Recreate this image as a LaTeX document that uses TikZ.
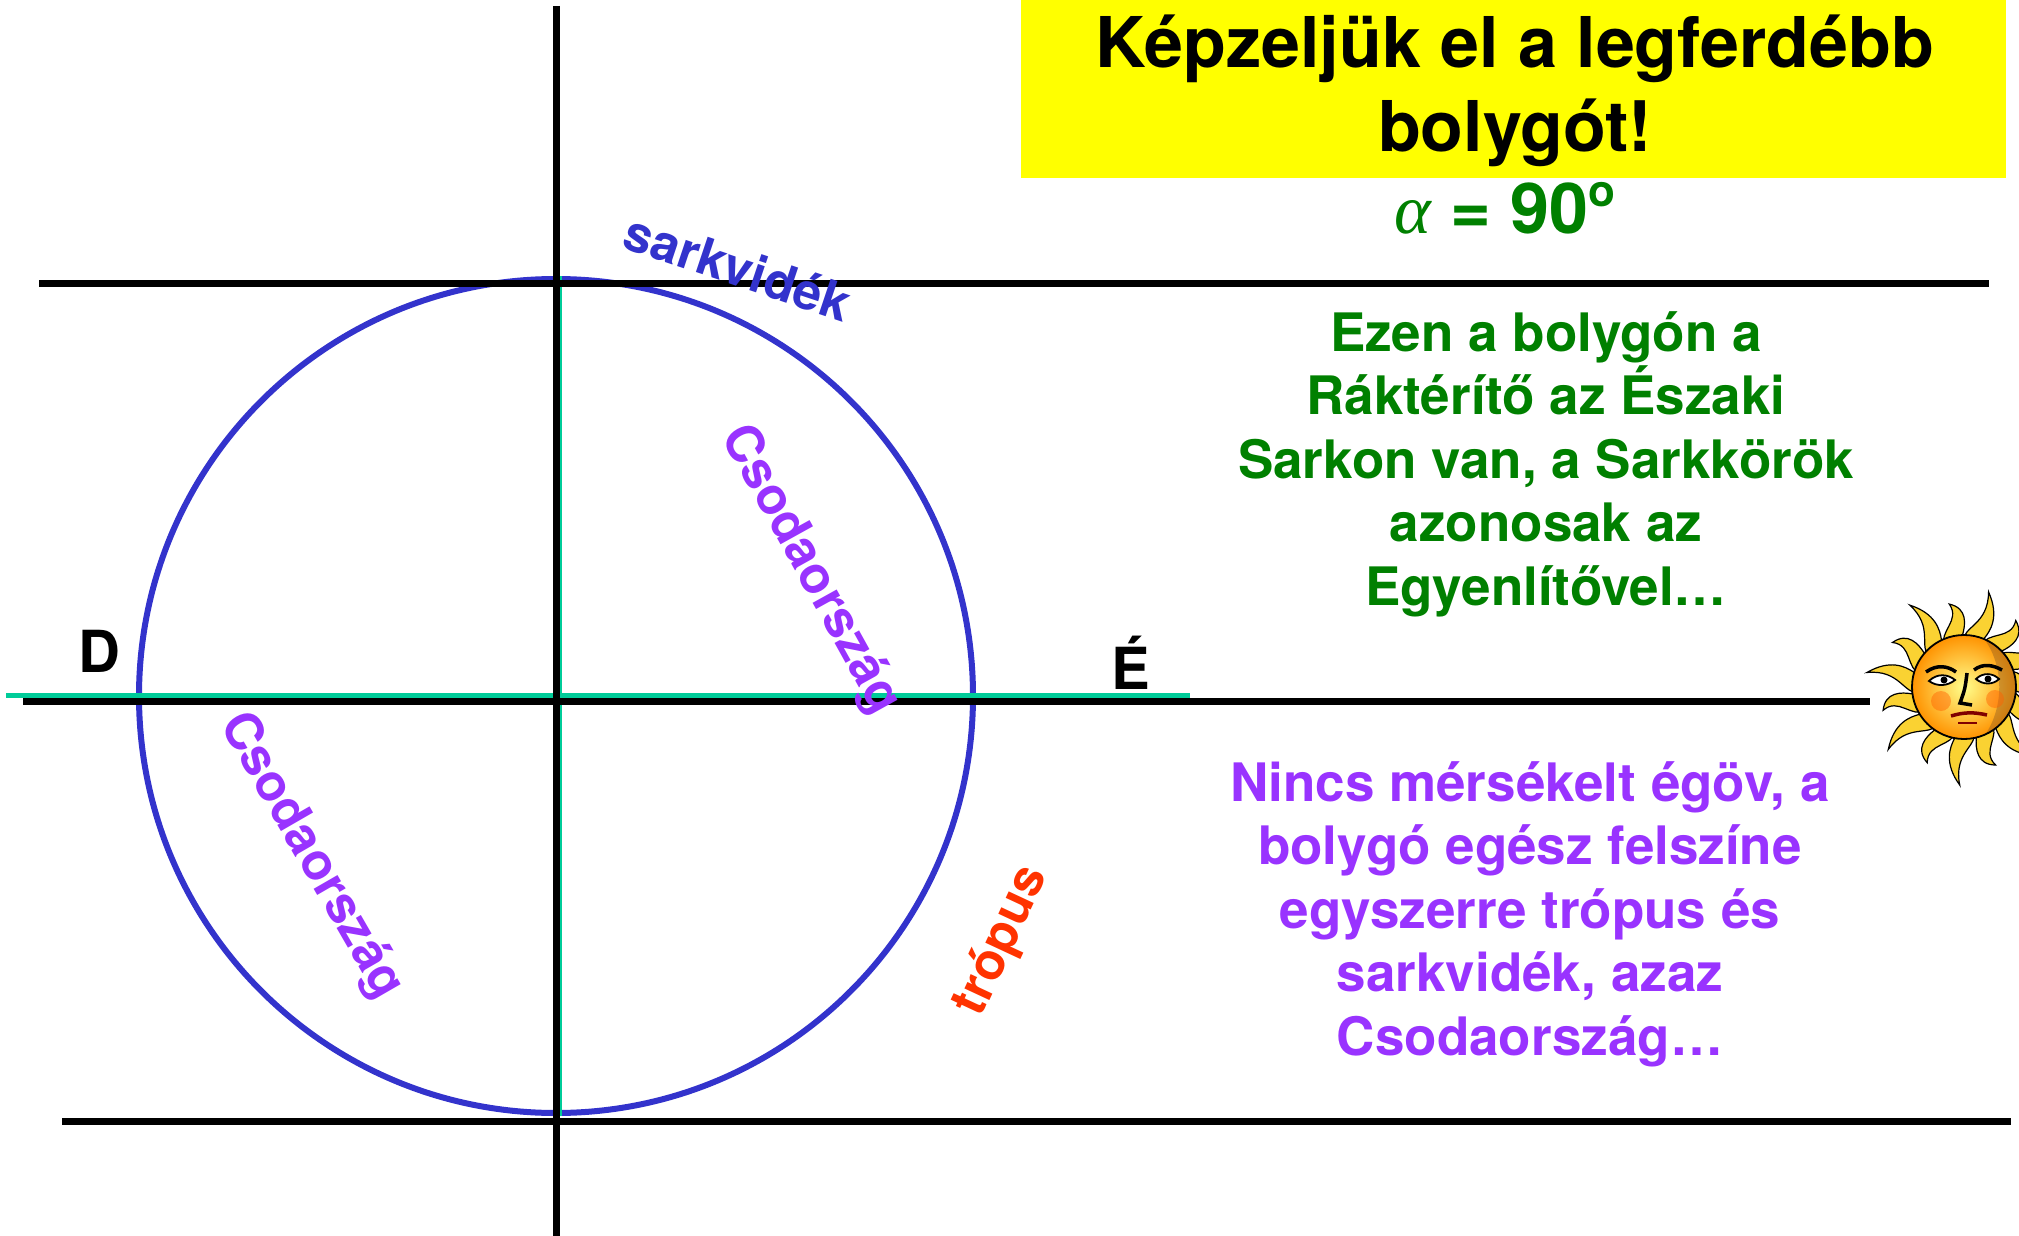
\documentclass[tikz,border=0pt]{standalone}
\usepackage{fontspec}
\setmainfont{TeX Gyre Heros}
\newfontfamily\greekfont{Liberation Serif}
\usepackage{tikz}
\usetikzlibrary{positioning}

\definecolor{planetblue}{RGB}{51,51,204}
\definecolor{eqgreen}{RGB}{0,204,153}
\definecolor{textgreen}{RGB}{0,128,0}
\definecolor{wonderpurple}{RGB}{153,51,255}
\definecolor{tropicred}{RGB}{255,51,0}
\definecolor{titleyellow}{RGB}{255,255,0}
\definecolor{sunyellow}{RGB}{250,210,50}

\tikzstyle{axisline} = [line width=7pt, black]
\tikzstyle{eqline} = [line width=5pt, eqgreen]
\tikzstyle{planet} = [circle, draw=planetblue, line width=6pt, minimum size=834pt, inner sep=0pt]
\tikzstyle{titlebox} = [fill=titleyellow, minimum width=985pt, minimum height=178pt, inner sep=0pt]
\tikzstyle{titletext} = [font=\fontsize{70}{84}\selectfont\bfseries, align=center, inner sep=0pt]
\tikzstyle{angletext} = [text=textgreen, font=\fontsize{70}{84}\selectfont\bfseries, inner sep=0pt]
\tikzstyle{greentext} = [text=textgreen, font=\fontsize{53}{63.5}\selectfont\bfseries, align=center, inner sep=0pt]
\tikzstyle{purpletext} = [text=wonderpurple, font=\fontsize{53}{63.5}\selectfont\bfseries, align=center, inner sep=0pt]
\tikzstyle{pole} = [font=\fontsize{58}{58}\selectfont\bfseries, inner sep=0pt]
\tikzstyle{zone} = [font=\fontsize{51}{51}\selectfont\bfseries, inner sep=0pt]
\tikzstyle{sunray} = [fill=sunyellow, draw=black, line width=1.2pt]

\begin{document}
\begin{tikzpicture}[x=1pt, y=-1pt]
\useasboundingbox (0,0) rectangle (2019,1236);

% title
\node[titlebox] (title) at (1513.5,89) {};
\node[titletext, anchor=base] (titletxt) at (1515,152) {Képzeljük el a legferdébb\\bolygót!};
\node[angletext, anchor=base] (angle) at (1505,233) {{\greekfont\mdseries\itshape α} = 90\raisebox{27pt}{\fontsize{44}{44}\selectfont o}};

% planet
\node[planet] (planet) at (556,696) {};

% axis and equator
\draw[eqgreen, line width=3pt] ([xshift=4pt]planet.north) -- ([xshift=4pt]planet.south);
\coordinate (eqL) at (6,695.5);
\coordinate (eqR) at (1190,695.5);
\draw[eqline] (eqL) -- (eqR);

% horizontal lines and vertical axis
\coordinate (topL) at (39,283);
\coordinate (topR) at (1989,283);
\coordinate (midL) at (23,701);
\coordinate (midR) at (1870,701);
\coordinate (botL) at (62,1121);
\coordinate (botR) at (2011,1121);
\coordinate (axT) at (556,6);
\coordinate (axB) at (556,1236);
\draw[axisline] (topL) -- (topR);
\draw[axisline] (midL) -- (midR);
\draw[axisline] (botL) -- (botR);
\draw[axisline] (axT) -- (axB);

% labels
\node[pole, anchor=base] (south) at (99,672) {D};
\node[pole, anchor=base] (north) at (1131,689) {É};
\node[zone, text=planetblue, rotate=-18.5] (polar) at (738,267) {sarkvidék};
\node[zone, text=wonderpurple, rotate=-61] (wonderA) at (810,570) {Csodaország};
\node[zone, text=wonderpurple, rotate=-60] (wonderB) at (311,856) {Csodaország};
\node[zone, text=tropicred, rotate=65] (tropic) at (1002,941) {trópus};

\node[greentext, anchor=base] (ezen) at (1546,605) {Ezen a bolygón a\\Ráktérítő az Északi\\Sarkon van, a Sarkkörök\\azonosak az\\Egyenlítővel…};
\node[purpletext, anchor=base] (nincs) at (1530,1055) {Nincs mérsékelt égöv, a\\bolygó egész felszíne\\egyszerre trópus és\\sarkvidék, azaz\\Csodaország…};

% sun
\begin{scope}[shift={(1964,687)}]
  \foreach \a [count=\i] in {0,24,...,336} {
    \pgfmathsetmacro{\len}{mod(\i,2)==0 ? 98 : 84}
    \draw[sunray, rotate=\a] (42,-15) .. controls (58,-20) and (66,4) .. (\len,-6)
      .. controls (78,12) and (62,8) .. (52,4) .. controls (50,8) and (46,12) .. (42,15) -- cycle;
  }
  \shade[inner color=yellow!45!white, outer color=orange!85!yellow] (0,0) circle (52);
  \fill[brown!60!black, opacity=0.35] (21,-47) arc (-66:66:52) .. controls (40,20) and (40,-20) .. cycle;
  \draw[black, line width=1.8pt] (0,0) circle (52);
  % cheeks
  \fill[orange!75!red, opacity=0.45] (-23,14) circle (10);
  \fill[orange!75!red, opacity=0.45] (31,12) circle (9);
  % eyes
  \draw[line width=3.5pt] (-38,-15) .. controls (-27,-23) and (-16,-21) .. (-8,-15);
  \draw[line width=3.5pt] (10,-17) .. controls (19,-24) and (29,-22) .. (38,-17);
  \draw[fill=white, line width=1.8pt] (-35,-6) .. controls (-27,-14) and (-16,-13) .. (-9,-7)
    .. controls (-16,-1) and (-27,0) .. cycle;
  \draw[fill=white, line width=1.8pt] (12,-8) .. controls (19,-15) and (29,-14) .. (35,-8)
    .. controls (29,-2) and (19,-2) .. cycle;
  \fill (-20,-7) circle (3.5);
  \fill (24,-8) circle (3.5);
  % nose and mouth
  \draw[line width=3.5pt] (3,-14) .. controls (1,2) .. (-4,16) -- (8,18);
  \draw[red!50!black, line width=3.5pt] (-13,29) .. controls (0,25) and (10,25) .. (23,28);
  \draw[red!50!black, line width=2pt] (-6,36) -- (13,36);
\end{scope}
\end{tikzpicture}
\end{document}
